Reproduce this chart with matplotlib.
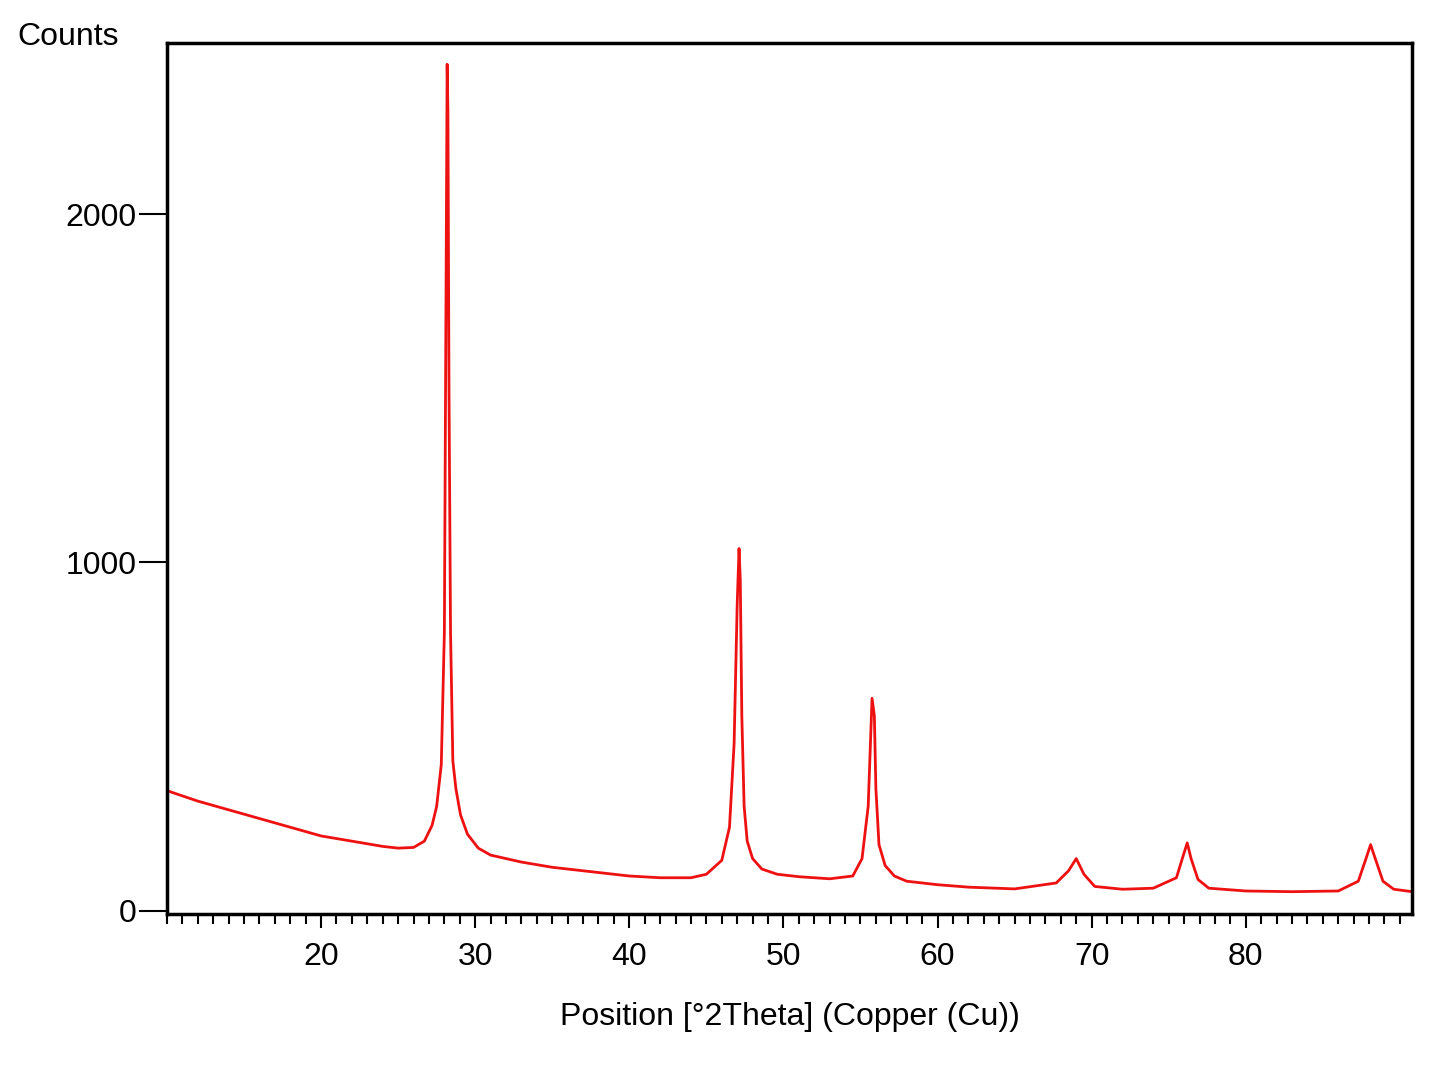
import matplotlib
matplotlib.use("Agg")
import matplotlib.pyplot as plt
from matplotlib.ticker import MultipleLocator

two_theta = [10, 11, 12, 14, 16, 18, 20, 22, 24, 25, 26, 26.7, 27.2, 27.5, 27.8, 28.0, 28.1, 28.18, 28.23,
             28.3, 28.4, 28.55, 28.75, 29.05, 29.5, 30.2, 31, 33, 35, 38, 40, 42, 44, 45, 46.0, 46.5, 46.8,
             47.0, 47.12, 47.2, 47.3, 47.45, 47.65, 48.0, 48.6, 49.6, 51, 53, 54.5, 55.1, 55.5, 55.75, 55.9, 56.0,
             56.2, 56.6, 57.2, 58, 60, 62, 65, 67.7, 68.5, 69.0, 69.5, 70.2, 72, 74, 75.5, 75.95, 76.2, 76.45,
             76.9, 77.6, 80, 83, 86, 87.3, 87.8, 88.1, 88.4, 88.9, 89.6, 90.8]
counts = [345, 330, 315, 290, 265, 240, 215, 200, 185, 180, 182, 200, 245, 300, 420, 800, 1700, 2430, 2300,
          1500, 800, 430, 350, 275, 220, 180, 160, 140, 125, 110, 100, 95, 95, 105, 145, 240, 480,
          880, 1040, 950, 560, 300, 200, 150, 120, 105, 98, 92, 100, 150, 300, 610, 560,
          350, 190, 130, 100, 85, 75, 68, 63, 80, 115, 150, 105, 70, 62, 65, 95, 160, 195, 150,
          90, 65, 57, 55, 57, 85, 150, 190, 150, 85, 62, 55]

plt.rcParams['font.family'] = ['Liberation Sans', 'DejaVu Sans']
fig = plt.figure(figsize=(14.48, 10.86), dpi=100)
ax = fig.add_axes([0.1153, 0.1584, 0.860, 0.802])
ax.plot(two_theta, counts, color='#ee1111', lw=2)
ax.set_xlim(10, 90.8)
ax.set_ylim(-9, 2491)
ax.set_xticks([20, 30, 40, 50, 60, 70, 80])
ax.xaxis.set_minor_locator(MultipleLocator(1))
ax.set_yticks([0, 1000, 2000])
ax.tick_params(axis='both', labelsize=23, direction='out', width=1.5)
ax.tick_params(axis='x', which='major', length=10, pad=10)
ax.tick_params(axis='x', which='minor', length=7, width=1.5)
ax.tick_params(axis='y', length=20, pad=2)
for s in ax.spines.values():
    s.set_linewidth(2.5)
ax.set_xlabel('Position [°2Theta] (Copper (Cu))', fontsize=23, labelpad=22)
fig.text(0.012, 0.966, 'Counts', fontsize=23, va='center')
fig.savefig('out.png', dpi=100)
